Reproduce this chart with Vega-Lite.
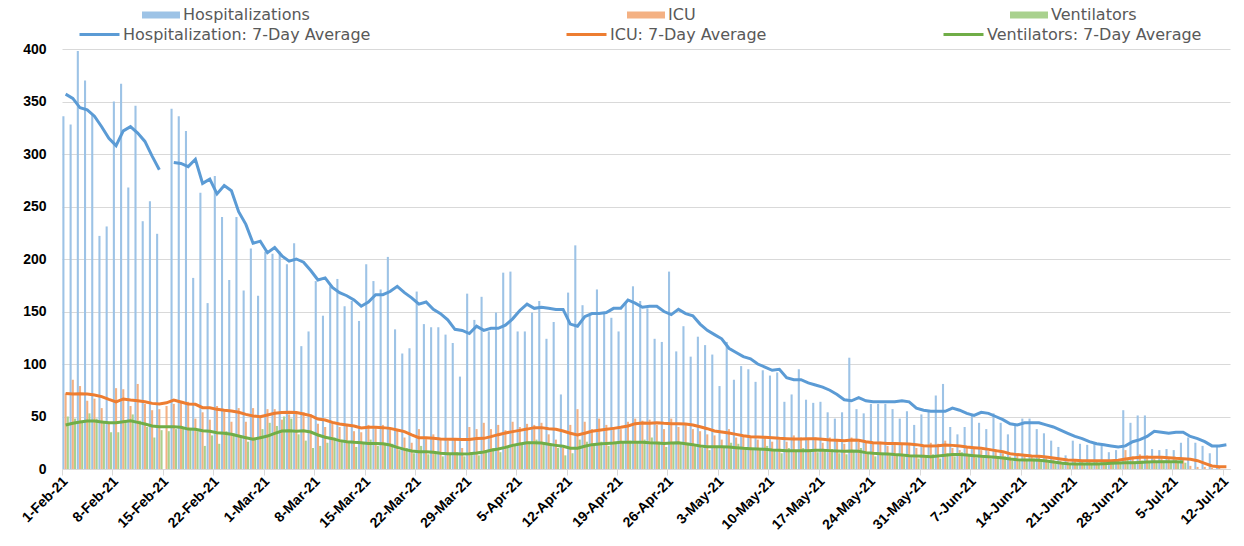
{
"$schema": "https://vega.github.io/schema/vega-lite/v6.json",
"width": 1168, "height": 420,
"autosize": {"type": "none"},
"padding": {"left": 62, "top": 49, "right": 14, "bottom": 77},
"background": "white",
"config": {"view": {"stroke": null}, "font": "DejaVu Sans",
  "legend": {"padding": 0, "titlePadding": 0, "labelLimit": 400},
  "axisY": {"title": null, "values": [0,50,100,150,200,250,300,350,400], "grid": true, "gridColor": "#D9D9D9", "gridWidth": 1, "domain": false, "ticks": false,
    "labelFont": "Liberation Sans", "labelFontWeight": "bold", "labelFontSize": 14, "labelColor": "#000000", "labelPadding": 16}},
"data": {"values": [
{"date":"2021-02-01","hosp":336,"icu":72,"vent":50,"hosp_avg":357,"icu_avg":72,"vent_avg":41.9},
{"date":"2021-02-02","hosp":328,"icu":85,"vent":48,"hosp_avg":353,"icu_avg":71.4,"vent_avg":43.5},
{"date":"2021-02-03","hosp":398,"icu":79,"vent":45,"hosp_avg":344,"icu_avg":71.7,"vent_avg":44.8},
{"date":"2021-02-04","hosp":370,"icu":65,"vent":53,"hosp_avg":342,"icu_avg":71.4,"vent_avg":45.7},
{"date":"2021-02-05","hosp":338,"icu":67,"vent":48,"hosp_avg":336,"icu_avg":70.5,"vent_avg":45.7},
{"date":"2021-02-06","hosp":222,"icu":58,"vent":45,"hosp_avg":326,"icu_avg":68.9,"vent_avg":44.8},
{"date":"2021-02-07","hosp":231,"icu":44,"vent":35,"hosp_avg":315,"icu_avg":66.3,"vent_avg":44},
{"date":"2021-02-08","hosp":350,"icu":77,"vent":35,"hosp_avg":308,"icu_avg":64,"vent_avg":44},
{"date":"2021-02-09","hosp":367,"icu":76,"vent":45,"hosp_avg":322,"icu_avg":66.7,"vent_avg":45},
{"date":"2021-02-10","hosp":268,"icu":60,"vent":52,"hosp_avg":326,"icu_avg":65.7,"vent_avg":46},
{"date":"2021-02-11","hosp":346,"icu":81,"vent":46,"hosp_avg":320,"icu_avg":65,"vent_avg":44.4},
{"date":"2021-02-12","hosp":236,"icu":62,"vent":40,"hosp_avg":312,"icu_avg":64,"vent_avg":42.9},
{"date":"2021-02-13","hosp":255,"icu":56,"vent":30,"hosp_avg":298,"icu_avg":62.5,"vent_avg":41},
{"date":"2021-02-14","hosp":224,"icu":57,"vent":37,"hosp_avg":285,"icu_avg":62,"vent_avg":40.3},
{"date":"2021-02-15","hosp":null,"icu":60,"vent":36,"hosp_avg":null,"icu_avg":63,"vent_avg":40.3},
{"date":"2021-02-16","hosp":343,"icu":62,"vent":38,"hosp_avg":292,"icu_avg":65.7,"vent_avg":40.3},
{"date":"2021-02-17","hosp":336,"icu":64,"vent":40,"hosp_avg":291,"icu_avg":63.8,"vent_avg":39.7},
{"date":"2021-02-18","hosp":322,"icu":64,"vent":38,"hosp_avg":288,"icu_avg":62,"vent_avg":38},
{"date":"2021-02-19","hosp":182,"icu":48,"vent":36,"hosp_avg":295,"icu_avg":61.6,"vent_avg":37.8},
{"date":"2021-02-20","hosp":263,"icu":54,"vent":22,"hosp_avg":272,"icu_avg":58.4,"vent_avg":36.5},
{"date":"2021-02-21","hosp":158,"icu":47,"vent":32,"hosp_avg":276,"icu_avg":58.4,"vent_avg":35.9},
{"date":"2021-02-22","hosp":279,"icu":60,"vent":24,"hosp_avg":262,"icu_avg":56.8,"vent_avg":34.6},
{"date":"2021-02-23","hosp":240,"icu":55,"vent":36,"hosp_avg":270,"icu_avg":55.9,"vent_avg":34},
{"date":"2021-02-24","hosp":180,"icu":45,"vent":34,"hosp_avg":265,"icu_avg":55.2,"vent_avg":33},
{"date":"2021-02-25","hosp":240,"icu":58,"vent":30,"hosp_avg":245,"icu_avg":54,"vent_avg":31.4},
{"date":"2021-02-26","hosp":170,"icu":45,"vent":26,"hosp_avg":233,"icu_avg":52,"vent_avg":29.8},
{"date":"2021-02-27","hosp":210,"icu":58,"vent":29,"hosp_avg":215,"icu_avg":50.5,"vent_avg":28.3},
{"date":"2021-02-28","hosp":165,"icu":49,"vent":38,"hosp_avg":217,"icu_avg":49.8,"vent_avg":29.8},
{"date":"2021-03-01","hosp":207,"icu":57,"vent":44,"hosp_avg":206,"icu_avg":51.4,"vent_avg":31.4},
{"date":"2021-03-02","hosp":205,"icu":57,"vent":41,"hosp_avg":211,"icu_avg":53,"vent_avg":34},
{"date":"2021-03-03","hosp":207,"icu":47,"vent":50,"hosp_avg":203,"icu_avg":53.7,"vent_avg":36.2},
{"date":"2021-03-04","hosp":195,"icu":52,"vent":48,"hosp_avg":198,"icu_avg":54,"vent_avg":36.5},
{"date":"2021-03-05","hosp":215,"icu":55,"vent":33,"hosp_avg":200,"icu_avg":53.7,"vent_avg":35.9},
{"date":"2021-03-06","hosp":117,"icu":54,"vent":27,"hosp_avg":197,"icu_avg":52.4,"vent_avg":36.5},
{"date":"2021-03-07","hosp":131,"icu":52,"vent":20,"hosp_avg":189,"icu_avg":50.8,"vent_avg":35.2},
{"date":"2021-03-08","hosp":179,"icu":43,"vent":22,"hosp_avg":180,"icu_avg":47.6,"vent_avg":32.4},
{"date":"2021-03-09","hosp":146,"icu":40,"vent":25,"hosp_avg":182,"icu_avg":46.7,"vent_avg":30.2},
{"date":"2021-03-10","hosp":174,"icu":44,"vent":30,"hosp_avg":173,"icu_avg":44.4,"vent_avg":28.9},
{"date":"2021-03-11","hosp":181,"icu":40,"vent":27,"hosp_avg":168,"icu_avg":42.9,"vent_avg":27},
{"date":"2021-03-12","hosp":155,"icu":42,"vent":25,"hosp_avg":165,"icu_avg":41.9,"vent_avg":26},
{"date":"2021-03-13","hosp":160,"icu":36,"vent":21,"hosp_avg":161,"icu_avg":41,"vent_avg":25.4},
{"date":"2021-03-14","hosp":141,"icu":35,"vent":24,"hosp_avg":155,"icu_avg":39,"vent_avg":25},
{"date":"2021-03-15","hosp":195,"icu":42,"vent":28,"hosp_avg":159,"icu_avg":39.7,"vent_avg":24.4},
{"date":"2021-03-16","hosp":179,"icu":40,"vent":22,"hosp_avg":166,"icu_avg":39.7,"vent_avg":24.4},
{"date":"2021-03-17","hosp":171,"icu":42,"vent":25,"hosp_avg":166,"icu_avg":39.4,"vent_avg":24.1},
{"date":"2021-03-18","hosp":202,"icu":38,"vent":24,"hosp_avg":169,"icu_avg":38.7,"vent_avg":22.9},
{"date":"2021-03-19","hosp":133,"icu":37,"vent":18,"hosp_avg":174,"icu_avg":37.1,"vent_avg":20.6},
{"date":"2021-03-20","hosp":110,"icu":30,"vent":20,"hosp_avg":168,"icu_avg":35.6,"vent_avg":18.7},
{"date":"2021-03-21","hosp":115,"icu":25,"vent":15,"hosp_avg":163,"icu_avg":32.4,"vent_avg":17.1},
{"date":"2021-03-22","hosp":169,"icu":38,"vent":22,"hosp_avg":157,"icu_avg":29.8,"vent_avg":16.5},
{"date":"2021-03-23","hosp":138,"icu":30,"vent":14,"hosp_avg":159,"icu_avg":29.8,"vent_avg":16.5},
{"date":"2021-03-24","hosp":135,"icu":33,"vent":16,"hosp_avg":152,"icu_avg":29.2,"vent_avg":15.9},
{"date":"2021-03-25","hosp":135,"icu":29,"vent":12,"hosp_avg":148,"icu_avg":28.6,"vent_avg":14.9},
{"date":"2021-03-26","hosp":128,"icu":27,"vent":14,"hosp_avg":142,"icu_avg":28.3,"vent_avg":14.6},
{"date":"2021-03-27","hosp":120,"icu":28,"vent":16,"hosp_avg":133,"icu_avg":28.3,"vent_avg":14.6},
{"date":"2021-03-28","hosp":88,"icu":20,"vent":12,"hosp_avg":132,"icu_avg":28,"vent_avg":14.3},
{"date":"2021-03-29","hosp":167,"icu":40,"vent":15,"hosp_avg":129,"icu_avg":28,"vent_avg":14.6},
{"date":"2021-03-30","hosp":142,"icu":38,"vent":13,"hosp_avg":136,"icu_avg":29,"vent_avg":15.2},
{"date":"2021-03-31","hosp":164,"icu":44,"vent":18,"hosp_avg":132,"icu_avg":29.2,"vent_avg":16.2},
{"date":"2021-04-01","hosp":131,"icu":38,"vent":20,"hosp_avg":134,"icu_avg":30.8,"vent_avg":17.8},
{"date":"2021-04-02","hosp":149,"icu":42,"vent":16,"hosp_avg":134,"icu_avg":32.7,"vent_avg":19},
{"date":"2021-04-03","hosp":187,"icu":37,"vent":20,"hosp_avg":137,"icu_avg":34.3,"vent_avg":20.6},
{"date":"2021-04-04","hosp":188,"icu":45,"vent":22,"hosp_avg":143,"icu_avg":35.6,"vent_avg":22.5},
{"date":"2021-04-05","hosp":131,"icu":40,"vent":24,"hosp_avg":151,"icu_avg":36.8,"vent_avg":23.8},
{"date":"2021-04-06","hosp":131,"icu":43,"vent":26,"hosp_avg":157,"icu_avg":38,"vent_avg":25},
{"date":"2021-04-07","hosp":149,"icu":42,"vent":28,"hosp_avg":153,"icu_avg":39.4,"vent_avg":25},
{"date":"2021-04-08","hosp":160,"icu":44,"vent":25,"hosp_avg":154,"icu_avg":39.4,"vent_avg":24.8},
{"date":"2021-04-09","hosp":124,"icu":33,"vent":24,"hosp_avg":153,"icu_avg":38.4,"vent_avg":23.5},
{"date":"2021-04-10","hosp":140,"icu":28,"vent":20,"hosp_avg":152,"icu_avg":37.8,"vent_avg":22.5},
{"date":"2021-04-11","hosp":71,"icu":20,"vent":13,"hosp_avg":152,"icu_avg":36.2,"vent_avg":21.6},
{"date":"2021-04-12","hosp":168,"icu":42,"vent":15,"hosp_avg":138,"icu_avg":34,"vent_avg":19.7},
{"date":"2021-04-13","hosp":213,"icu":57,"vent":28,"hosp_avg":136,"icu_avg":32.4,"vent_avg":19.7},
{"date":"2021-04-14","hosp":156,"icu":45,"vent":26,"hosp_avg":145,"icu_avg":34,"vent_avg":21.6},
{"date":"2021-04-15","hosp":146,"icu":38,"vent":24,"hosp_avg":148,"icu_avg":35.9,"vent_avg":23.2},
{"date":"2021-04-16","hosp":171,"icu":48,"vent":26,"hosp_avg":148,"icu_avg":36.8,"vent_avg":23.8},
{"date":"2021-04-17","hosp":148,"icu":42,"vent":22,"hosp_avg":149,"icu_avg":37.8,"vent_avg":24.4},
{"date":"2021-04-18","hosp":144,"icu":40,"vent":24,"hosp_avg":153,"icu_avg":38.7,"vent_avg":24.8},
{"date":"2021-04-19","hosp":131,"icu":38,"vent":25,"hosp_avg":153,"icu_avg":39.7,"vent_avg":25.4},
{"date":"2021-04-20","hosp":158,"icu":45,"vent":27,"hosp_avg":161,"icu_avg":41,"vent_avg":25.4},
{"date":"2021-04-21","hosp":174,"icu":48,"vent":26,"hosp_avg":158,"icu_avg":43.2,"vent_avg":25.4},
{"date":"2021-04-22","hosp":160,"icu":46,"vent":28,"hosp_avg":154,"icu_avg":43.8,"vent_avg":25.4},
{"date":"2021-04-23","hosp":153,"icu":47,"vent":30,"hosp_avg":155,"icu_avg":43.5,"vent_avg":25},
{"date":"2021-04-24","hosp":124,"icu":42,"vent":26,"hosp_avg":155,"icu_avg":44,"vent_avg":24.8},
{"date":"2021-04-25","hosp":121,"icu":38,"vent":21,"hosp_avg":150,"icu_avg":43.5,"vent_avg":24.4},
{"date":"2021-04-26","hosp":188,"icu":48,"vent":25,"hosp_avg":147,"icu_avg":43.2,"vent_avg":24.8},
{"date":"2021-04-27","hosp":112,"icu":40,"vent":24,"hosp_avg":152,"icu_avg":43.2,"vent_avg":25},
{"date":"2021-04-28","hosp":136,"icu":43,"vent":25,"hosp_avg":148,"icu_avg":42.9,"vent_avg":24.1},
{"date":"2021-04-29","hosp":107,"icu":38,"vent":22,"hosp_avg":146,"icu_avg":41.9,"vent_avg":23.2},
{"date":"2021-04-30","hosp":126,"icu":36,"vent":20,"hosp_avg":138,"icu_avg":40.3,"vent_avg":21.9},
{"date":"2021-05-01","hosp":118,"icu":33,"vent":18,"hosp_avg":132,"icu_avg":38.4,"vent_avg":21.3},
{"date":"2021-05-02","hosp":109,"icu":32,"vent":22,"hosp_avg":128,"icu_avg":36.2,"vent_avg":21.3},
{"date":"2021-05-03","hosp":79,"icu":28,"vent":20,"hosp_avg":124,"icu_avg":35.2,"vent_avg":21.3},
{"date":"2021-05-04","hosp":121,"icu":38,"vent":25,"hosp_avg":115,"icu_avg":34.3,"vent_avg":21},
{"date":"2021-05-05","hosp":85,"icu":30,"vent":24,"hosp_avg":111,"icu_avg":33,"vent_avg":20.3},
{"date":"2021-05-06","hosp":98,"icu":32,"vent":21,"hosp_avg":107,"icu_avg":31.7,"vent_avg":19.7},
{"date":"2021-05-07","hosp":95,"icu":30,"vent":18,"hosp_avg":105,"icu_avg":30.8,"vent_avg":19.4},
{"date":"2021-05-08","hosp":83,"icu":28,"vent":20,"hosp_avg":100,"icu_avg":30.5,"vent_avg":19},
{"date":"2021-05-09","hosp":94,"icu":31,"vent":22,"hosp_avg":97,"icu_avg":30.2,"vent_avg":18.7},
{"date":"2021-05-10","hosp":89,"icu":26,"vent":18,"hosp_avg":94,"icu_avg":29.8,"vent_avg":18.1},
{"date":"2021-05-11","hosp":92,"icu":28,"vent":15,"hosp_avg":95,"icu_avg":29.2,"vent_avg":17.8},
{"date":"2021-05-12","hosp":64,"icu":26,"vent":20,"hosp_avg":87,"icu_avg":28.9,"vent_avg":17.5},
{"date":"2021-05-13","hosp":71,"icu":32,"vent":18,"hosp_avg":85,"icu_avg":28.6,"vent_avg":17.5},
{"date":"2021-05-14","hosp":95,"icu":30,"vent":20,"hosp_avg":85,"icu_avg":28.6,"vent_avg":17.5},
{"date":"2021-05-15","hosp":66,"icu":28,"vent":17,"hosp_avg":82,"icu_avg":28.9,"vent_avg":17.5},
{"date":"2021-05-16","hosp":63,"icu":30,"vent":16,"hosp_avg":80,"icu_avg":28.9,"vent_avg":17.8},
{"date":"2021-05-17","hosp":64,"icu":25,"vent":18,"hosp_avg":78,"icu_avg":28.3,"vent_avg":17.8},
{"date":"2021-05-18","hosp":54,"icu":30,"vent":19,"hosp_avg":75,"icu_avg":27.6,"vent_avg":17.5},
{"date":"2021-05-19","hosp":48,"icu":27,"vent":15,"hosp_avg":71,"icu_avg":27.3,"vent_avg":17.1},
{"date":"2021-05-20","hosp":54,"icu":24,"vent":14,"hosp_avg":66,"icu_avg":27,"vent_avg":16.8},
{"date":"2021-05-21","hosp":106,"icu":30,"vent":18,"hosp_avg":65,"icu_avg":27.6,"vent_avg":17.1},
{"date":"2021-05-22","hosp":57,"icu":26,"vent":20,"hosp_avg":68,"icu_avg":27.3,"vent_avg":16.8},
{"date":"2021-05-23","hosp":53,"icu":25,"vent":16,"hosp_avg":65,"icu_avg":26,"vent_avg":15.6},
{"date":"2021-05-24","hosp":62,"icu":24,"vent":12,"hosp_avg":64,"icu_avg":25,"vent_avg":14.9},
{"date":"2021-05-25","hosp":62,"icu":26,"vent":15,"hosp_avg":64,"icu_avg":24.8,"vent_avg":14.6},
{"date":"2021-05-26","hosp":62,"icu":22,"vent":13,"hosp_avg":64,"icu_avg":24.4,"vent_avg":14.3},
{"date":"2021-05-27","hosp":57,"icu":25,"vent":14,"hosp_avg":64,"icu_avg":24.4,"vent_avg":13.7},
{"date":"2021-05-28","hosp":48,"icu":23,"vent":12,"hosp_avg":65,"icu_avg":24.1,"vent_avg":13.3},
{"date":"2021-05-29","hosp":55,"icu":24,"vent":13,"hosp_avg":64,"icu_avg":23.8,"vent_avg":12.7},
{"date":"2021-05-30","hosp":42,"icu":20,"vent":10,"hosp_avg":58,"icu_avg":23.2,"vent_avg":12.4},
{"date":"2021-05-31","hosp":52,"icu":22,"vent":12,"hosp_avg":56,"icu_avg":22.2,"vent_avg":12.1},
{"date":"2021-06-01","hosp":56,"icu":25,"vent":14,"hosp_avg":55,"icu_avg":21.9,"vent_avg":11.7},
{"date":"2021-06-02","hosp":70,"icu":24,"vent":10,"hosp_avg":55,"icu_avg":22.2,"vent_avg":12.4},
{"date":"2021-06-03","hosp":81,"icu":27,"vent":15,"hosp_avg":55,"icu_avg":22.9,"vent_avg":13},
{"date":"2021-06-04","hosp":40,"icu":20,"vent":12,"hosp_avg":58,"icu_avg":22.5,"vent_avg":13.7},
{"date":"2021-06-05","hosp":33,"icu":18,"vent":16,"hosp_avg":56,"icu_avg":21.9,"vent_avg":13.7},
{"date":"2021-06-06","hosp":40,"icu":22,"vent":14,"hosp_avg":53,"icu_avg":21,"vent_avg":13.3},
{"date":"2021-06-07","hosp":51,"icu":20,"vent":11,"hosp_avg":51,"icu_avg":20.3,"vent_avg":12.7},
{"date":"2021-06-08","hosp":44,"icu":18,"vent":12,"hosp_avg":54,"icu_avg":19.7,"vent_avg":12.1},
{"date":"2021-06-09","hosp":38,"icu":17,"vent":10,"hosp_avg":53,"icu_avg":18.7,"vent_avg":11.7},
{"date":"2021-06-10","hosp":53,"icu":19,"vent":11,"hosp_avg":50,"icu_avg":17.5,"vent_avg":11.1},
{"date":"2021-06-11","hosp":44,"icu":15,"vent":12,"hosp_avg":47,"icu_avg":16.5,"vent_avg":10.5},
{"date":"2021-06-12","hosp":33,"icu":12,"vent":8,"hosp_avg":43,"icu_avg":14.6,"vent_avg":9.5},
{"date":"2021-06-13","hosp":41,"icu":14,"vent":9,"hosp_avg":42,"icu_avg":13.7,"vent_avg":8.9},
{"date":"2021-06-14","hosp":48,"icu":13,"vent":8,"hosp_avg":44,"icu_avg":13,"vent_avg":8.6},
{"date":"2021-06-15","hosp":48,"icu":12,"vent":10,"hosp_avg":44,"icu_avg":12.4,"vent_avg":8.6},
{"date":"2021-06-16","hosp":38,"icu":11,"vent":7,"hosp_avg":44,"icu_avg":12.1,"vent_avg":8.3},
{"date":"2021-06-17","hosp":34,"icu":12,"vent":6,"hosp_avg":42,"icu_avg":11.4,"vent_avg":7.6},
{"date":"2021-06-18","hosp":27,"icu":9,"vent":5,"hosp_avg":40,"icu_avg":10.5,"vent_avg":6.7},
{"date":"2021-06-19","hosp":21,"icu":8,"vent":6,"hosp_avg":37,"icu_avg":9.5,"vent_avg":5.7},
{"date":"2021-06-20","hosp":13,"icu":7,"vent":4,"hosp_avg":34,"icu_avg":8.6,"vent_avg":5.1},
{"date":"2021-06-21","hosp":27,"icu":9,"vent":5,"hosp_avg":31,"icu_avg":8.3,"vent_avg":4.8},
{"date":"2021-06-22","hosp":24,"icu":8,"vent":4,"hosp_avg":29,"icu_avg":7.9,"vent_avg":4.8},
{"date":"2021-06-23","hosp":23,"icu":7,"vent":5,"hosp_avg":26,"icu_avg":7.9,"vent_avg":4.8},
{"date":"2021-06-24","hosp":25,"icu":8,"vent":4,"hosp_avg":24,"icu_avg":7.9,"vent_avg":4.8},
{"date":"2021-06-25","hosp":22,"icu":7,"vent":6,"hosp_avg":23,"icu_avg":7.9,"vent_avg":5.1},
{"date":"2021-06-26","hosp":16,"icu":6,"vent":5,"hosp_avg":22,"icu_avg":7.9,"vent_avg":5.4},
{"date":"2021-06-27","hosp":18,"icu":9,"vent":6,"hosp_avg":21,"icu_avg":8.3,"vent_avg":5.7},
{"date":"2021-06-28","hosp":56,"icu":18,"vent":10,"hosp_avg":22,"icu_avg":9.5,"vent_avg":6},
{"date":"2021-06-29","hosp":44,"icu":12,"vent":7,"hosp_avg":26,"icu_avg":10.5,"vent_avg":6},
{"date":"2021-06-30","hosp":51,"icu":14,"vent":8,"hosp_avg":28,"icu_avg":11.1,"vent_avg":6.3},
{"date":"2021-07-01","hosp":51,"icu":13,"vent":6,"hosp_avg":31,"icu_avg":11.1,"vent_avg":6.7},
{"date":"2021-07-02","hosp":19,"icu":10,"vent":7,"hosp_avg":36,"icu_avg":11.1,"vent_avg":7},
{"date":"2021-07-03","hosp":18,"icu":11,"vent":8,"hosp_avg":35,"icu_avg":11.1,"vent_avg":7},
{"date":"2021-07-04","hosp":19,"icu":10,"vent":6,"hosp_avg":34,"icu_avg":10.8,"vent_avg":7},
{"date":"2021-07-05","hosp":18,"icu":9,"vent":7,"hosp_avg":35,"icu_avg":10.2,"vent_avg":7},
{"date":"2021-07-06","hosp":25,"icu":10,"vent":6,"hosp_avg":35,"icu_avg":9.8,"vent_avg":6.7},
{"date":"2021-07-07","hosp":30,"icu":3,"vent":null,"hosp_avg":31,"icu_avg":9.2,"vent_avg":null},
{"date":"2021-07-08","hosp":25,"icu":2,"vent":null,"hosp_avg":29,"icu_avg":7.9,"vent_avg":null},
{"date":"2021-07-09","hosp":22,"icu":2,"vent":null,"hosp_avg":26,"icu_avg":5.4,"vent_avg":null},
{"date":"2021-07-10","hosp":15,"icu":1,"vent":null,"hosp_avg":22,"icu_avg":2.9,"vent_avg":null},
{"date":"2021-07-11","hosp":21,"icu":2,"vent":null,"hosp_avg":22,"icu_avg":2.2,"vent_avg":null},
{"date":"2021-07-12","hosp":null,"icu":null,"vent":null,"hosp_avg":23,"icu_avg":2.2,"vent_avg":null}
]},
"encoding": {
  "x": {"field": "date", "type": "ordinal",
    "scale": {"paddingInner": 0.1, "paddingOuter": 0.05},
    "axis": {"title": null, "bandPosition": 0,
      "values": ["2021-02-01","2021-02-08","2021-02-15","2021-02-22","2021-03-01","2021-03-08","2021-03-15","2021-03-22","2021-03-29","2021-04-05","2021-04-12","2021-04-19","2021-04-26","2021-05-03","2021-05-10","2021-05-17","2021-05-24","2021-05-31","2021-06-07","2021-06-14","2021-06-21","2021-06-28","2021-07-05","2021-07-12"],
      "labelExpr": "utcFormat(toDate(datum.value), '%-d-%b-%y')",
      "labelAngle": -45, "labelAlign": "right", "labelBaseline": "middle",
      "labelFont": "Liberation Sans", "labelFontWeight": "bold", "labelFontSize": 14, "labelColor": "#000000",
      "labelPadding": 4, "domainColor": "#D9D9D9", "tickColor": "#D9D9D9", "tickSize": 6, "grid": false}}
},
"layer": [
  {"mark": {"type": "bar"},
   "encoding": {
     "y": {"field": "hosp", "type": "quantitative", "title": null, "scale": {"domain": [0, 400]}},
     "xOffset": {"datum": "Hospitalizations", "scale": {"domain": ["Hospitalizations", "ICU", "Ventilators"], "paddingInner": 0.05, "paddingOuter": 0}},
     "color": {"datum": "Hospitalizations", "scale": {"range": ["#9DC3E6"]},
       "legend": {"orient": "none", "legendX": 80, "legendY": -53, "title": null, "symbolType": "M-1,-0.18H1V0.18H-1Z", "symbolSize": 1444, "symbolStrokeWidth": 0,
         "labelFont": "DejaVu Sans", "labelFontSize": 16, "labelColor": "#595959", "labelOffset": 3}}
   }},
  {"mark": {"type": "bar"},
   "encoding": {
     "y": {"field": "icu", "type": "quantitative", "title": null, "scale": {"domain": [0, 400]}},
     "xOffset": {"datum": "ICU", "scale": {"domain": ["Hospitalizations", "ICU", "Ventilators"], "paddingInner": 0.05, "paddingOuter": 0}},
     "color": {"datum": "ICU", "scale": {"range": ["#F4B183"]},
       "legend": {"orient": "none", "legendX": 565, "legendY": -53, "title": null, "symbolType": "M-1,-0.18H1V0.18H-1Z", "symbolSize": 1444, "symbolStrokeWidth": 0,
         "labelFont": "DejaVu Sans", "labelFontSize": 16, "labelColor": "#595959", "labelOffset": 3}}
   }},
  {"mark": {"type": "bar"},
   "encoding": {
     "y": {"field": "vent", "type": "quantitative", "title": null, "scale": {"domain": [0, 400]}},
     "xOffset": {"datum": "Ventilators", "scale": {"domain": ["Hospitalizations", "ICU", "Ventilators"], "paddingInner": 0.05, "paddingOuter": 0}},
     "color": {"datum": "Ventilators", "scale": {"range": ["#A9D18E"]},
       "legend": {"orient": "none", "legendX": 948, "legendY": -53, "title": null, "symbolType": "M-1,-0.18H1V0.18H-1Z", "symbolSize": 1444, "symbolStrokeWidth": 0,
         "labelFont": "DejaVu Sans", "labelFontSize": 16, "labelColor": "#595959", "labelOffset": 3}}
   }},
  {"mark": {"type": "line", "strokeWidth": 3},
   "encoding": {
     "y": {"field": "hosp_avg", "type": "quantitative", "title": null, "scale": {"domain": [0, 400]}},
     "color": {"datum": "Hospitalization: 7-Day Average", "scale": {"range": ["#5B9BD5"]},
       "legend": {"orient": "none", "legendX": 16, "legendY": -36, "title": null, "symbolType": "stroke", "symbolSize": 1600, "symbolStrokeWidth": 3,
         "labelFont": "DejaVu Sans", "labelFontSize": 16, "labelColor": "#595959", "labelOffset": 2}}
   }},
  {"mark": {"type": "line", "strokeWidth": 3},
   "encoding": {
     "y": {"field": "icu_avg", "type": "quantitative", "title": null, "scale": {"domain": [0, 400]}},
     "color": {"datum": "ICU: 7-Day Average", "scale": {"range": ["#ED7D31"]},
       "legend": {"orient": "none", "legendX": 503, "legendY": -36, "title": null, "symbolType": "stroke", "symbolSize": 1600, "symbolStrokeWidth": 3,
         "labelFont": "DejaVu Sans", "labelFontSize": 16, "labelColor": "#595959", "labelOffset": 2}}
   }},
  {"mark": {"type": "line", "strokeWidth": 3},
   "encoding": {
     "y": {"field": "vent_avg", "type": "quantitative", "title": null, "scale": {"domain": [0, 400]}},
     "color": {"datum": "Ventilators: 7-Day Average", "scale": {"range": ["#70AD47"]},
       "legend": {"orient": "none", "legendX": 880, "legendY": -36, "title": null, "symbolType": "stroke", "symbolSize": 1600, "symbolStrokeWidth": 3,
         "labelFont": "DejaVu Sans", "labelFontSize": 16, "labelColor": "#595959", "labelOffset": 2}}
   }}
],
"resolve": {"scale": {"color": "independent"}}
}
